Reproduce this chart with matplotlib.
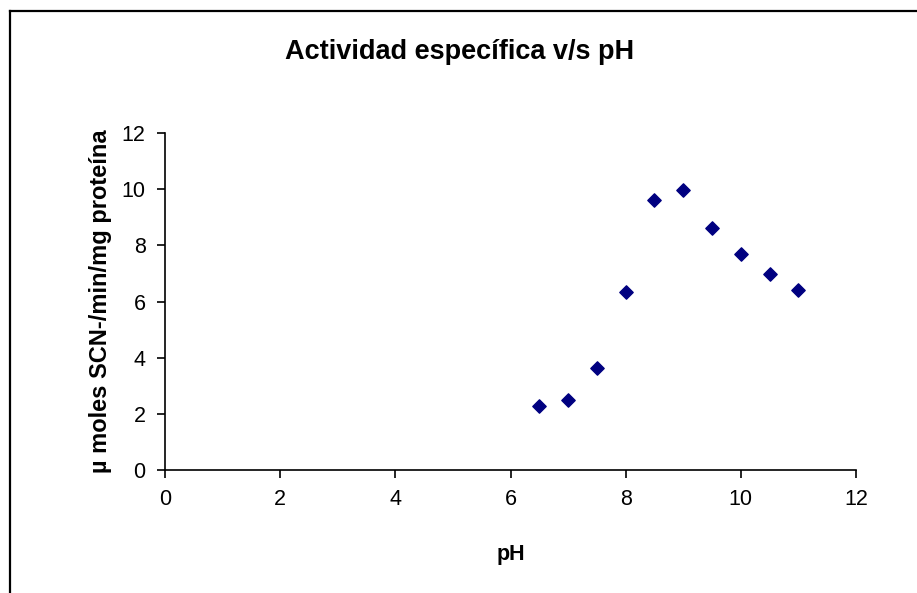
import matplotlib
matplotlib.use("Agg")
import matplotlib.pyplot as plt
from matplotlib.lines import Line2D

# Données
ph = [6.5, 7.0, 7.5, 8.0, 8.5, 9.0, 9.5, 10.0, 10.5, 11.0]
actividad = [2.28, 2.49, 3.63, 6.34, 9.62, 9.97, 8.62, 7.69, 6.98, 6.41]
ticks = [0, 2, 4, 6, 8, 10, 12]

plt.rcParams["font.family"] = ["Liberation Sans", "DejaVu Sans"]

fig = plt.figure(figsize=(9.17, 5.93), dpi=100)
ax = fig.add_axes([0.18, 0.2074, 0.7535, 0.5683])

ax.scatter(ph, actividad, marker="D", s=46, color="#000080", zorder=3)

ax.set_xlim(0, 12)
ax.set_ylim(0, 12)
ax.set_xticks(ticks)
ax.set_yticks(ticks)
ax.tick_params(labelsize=15.5, length=6, width=1.2, direction="out", pad=8)

for side in ["top", "right"]:
    ax.spines[side].set_visible(False)
for side in ["left", "bottom"]:
    ax.spines[side].set_linewidth(1.2)

ax.set_xlabel("pH", fontsize=15.5, fontweight="bold", labelpad=24)
ax.set_ylabel("\u00b5 moles SCN-/min/mg prote\u00edna", fontsize=17,
              fontweight="bold", labelpad=7)

fig.text(0.501, 0.912, "Actividad específica v/s pH", ha="center", va="center",
         fontsize=19.5, fontweight="bold")

# Cadre du graphique (coupé à droite et en bas)
fig.add_artist(Line2D([9.5 / 917, 9.5 / 917], [0, 1 - 11 / 593],
                      transform=fig.transFigure, color="black", lw=1.6))
fig.add_artist(Line2D([9.5 / 917, 1], [1 - 11 / 593, 1 - 11 / 593],
                      transform=fig.transFigure, color="black", lw=1.6))

fig.savefig("out.png", dpi=100, facecolor="white")
